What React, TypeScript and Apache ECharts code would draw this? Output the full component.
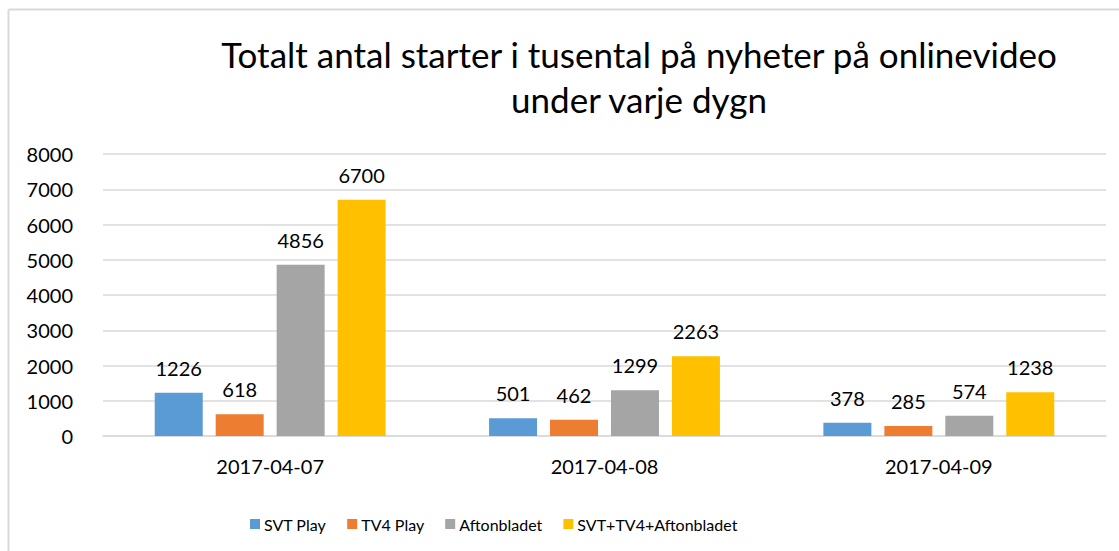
import React, { useEffect, useRef } from "react";
import * as echarts from "echarts";

const categories = ["2017-04-07", "2017-04-08", "2017-04-09"];
const seriesNames = ["SVT Play", "TV4 Play", "Aftonbladet", "SVT+TV4+Aftonbladet"];
const svtPlay = [1226, 501, 378];
const tv4Play = [618, 462, 285];
const aftonbladet = [4856, 1299, 574];
const combined = [6700, 2263, 1238];
const colors = ["#5B9BD5", "#ED7D31", "#A5A5A5", "#FFC000"];
const titleText = "Totalt antal starter i tusental på nyheter på onlinevideo\nunder varje dygn";

const FONT = "Lato";

export default function App() {
  const ref = useRef<HTMLDivElement>(null);
  useEffect(() => {
    if (!ref.current) return;
    const chart = echarts.init(ref.current, null, { renderer: "svg" });
    const values = [svtPlay, tv4Play, aftonbladet, combined];
    chart.setOption({
      animation: false,
      backgroundColor: "#ffffff",
      textStyle: { fontFamily: FONT },
      title: {
        text: titleText,
        left: 634,
        top: 26,
        textAlign: "center",
        textStyle: { fontFamily: FONT, fontSize: 35, fontWeight: "normal", color: "#000", lineHeight: 45 },
      },
      graphic: [
        { type: "line", shape: { x1: 8.5, y1: 9.5, x2: 1119, y2: 9.5 }, style: { stroke: "#d9d9d9", lineWidth: 2 } },
        { type: "line", shape: { x1: 8.5, y1: 9.5, x2: 8.5, y2: 551 }, style: { stroke: "#d9d9d9", lineWidth: 2 } },
      ],
      legend: {
        left: 245,
        top: 511,
        itemWidth: 10,
        itemHeight: 10,
        itemGap: 21,
        icon: "rect",
        textStyle: { fontFamily: FONT, fontSize: 16, color: "#000", padding: [0, 0, 0, -1] },
        data: seriesNames,
      },
      grid: { left: 103, right: 13, top: 154, bottom: 115, containLabel: false },
      xAxis: {
        type: "category",
        data: categories,
        axisLine: { show: true, lineStyle: { color: "#d9d9d9", width: 1.5 } },
        axisTick: { show: false },
        axisLabel: { fontFamily: FONT, fontSize: 20, color: "#000", margin: 20 },
      },
      yAxis: {
        type: "value",
        min: 0,
        max: 8000,
        interval: 1000,
        axisLine: { show: false },
        axisTick: { show: false },
        splitLine: { lineStyle: { color: "#d9d9d9", width: 1.5 } },
        axisLabel: { fontFamily: FONT, fontSize: 20, color: "#000", margin: 30, formatter: (v: number) => String(v) },
      },
      series: seriesNames.map((name, i) => ({
        name,
        type: "bar",
        data: values[i],
        barWidth: 48,
        barGap: "27%",
        itemStyle: { color: colors[i] },
        label: {
          show: true,
          position: "top",
          distance: 15,
          fontFamily: FONT,
          fontSize: 20,
          color: "#000",
        },
      })),
    });
    return () => chart.dispose();
  }, []);
  return (
    <div
      ref={ref}
      style={{ position: "fixed", left: 0, top: 0, width: 1119, height: 551 }}
    />
  );
}
